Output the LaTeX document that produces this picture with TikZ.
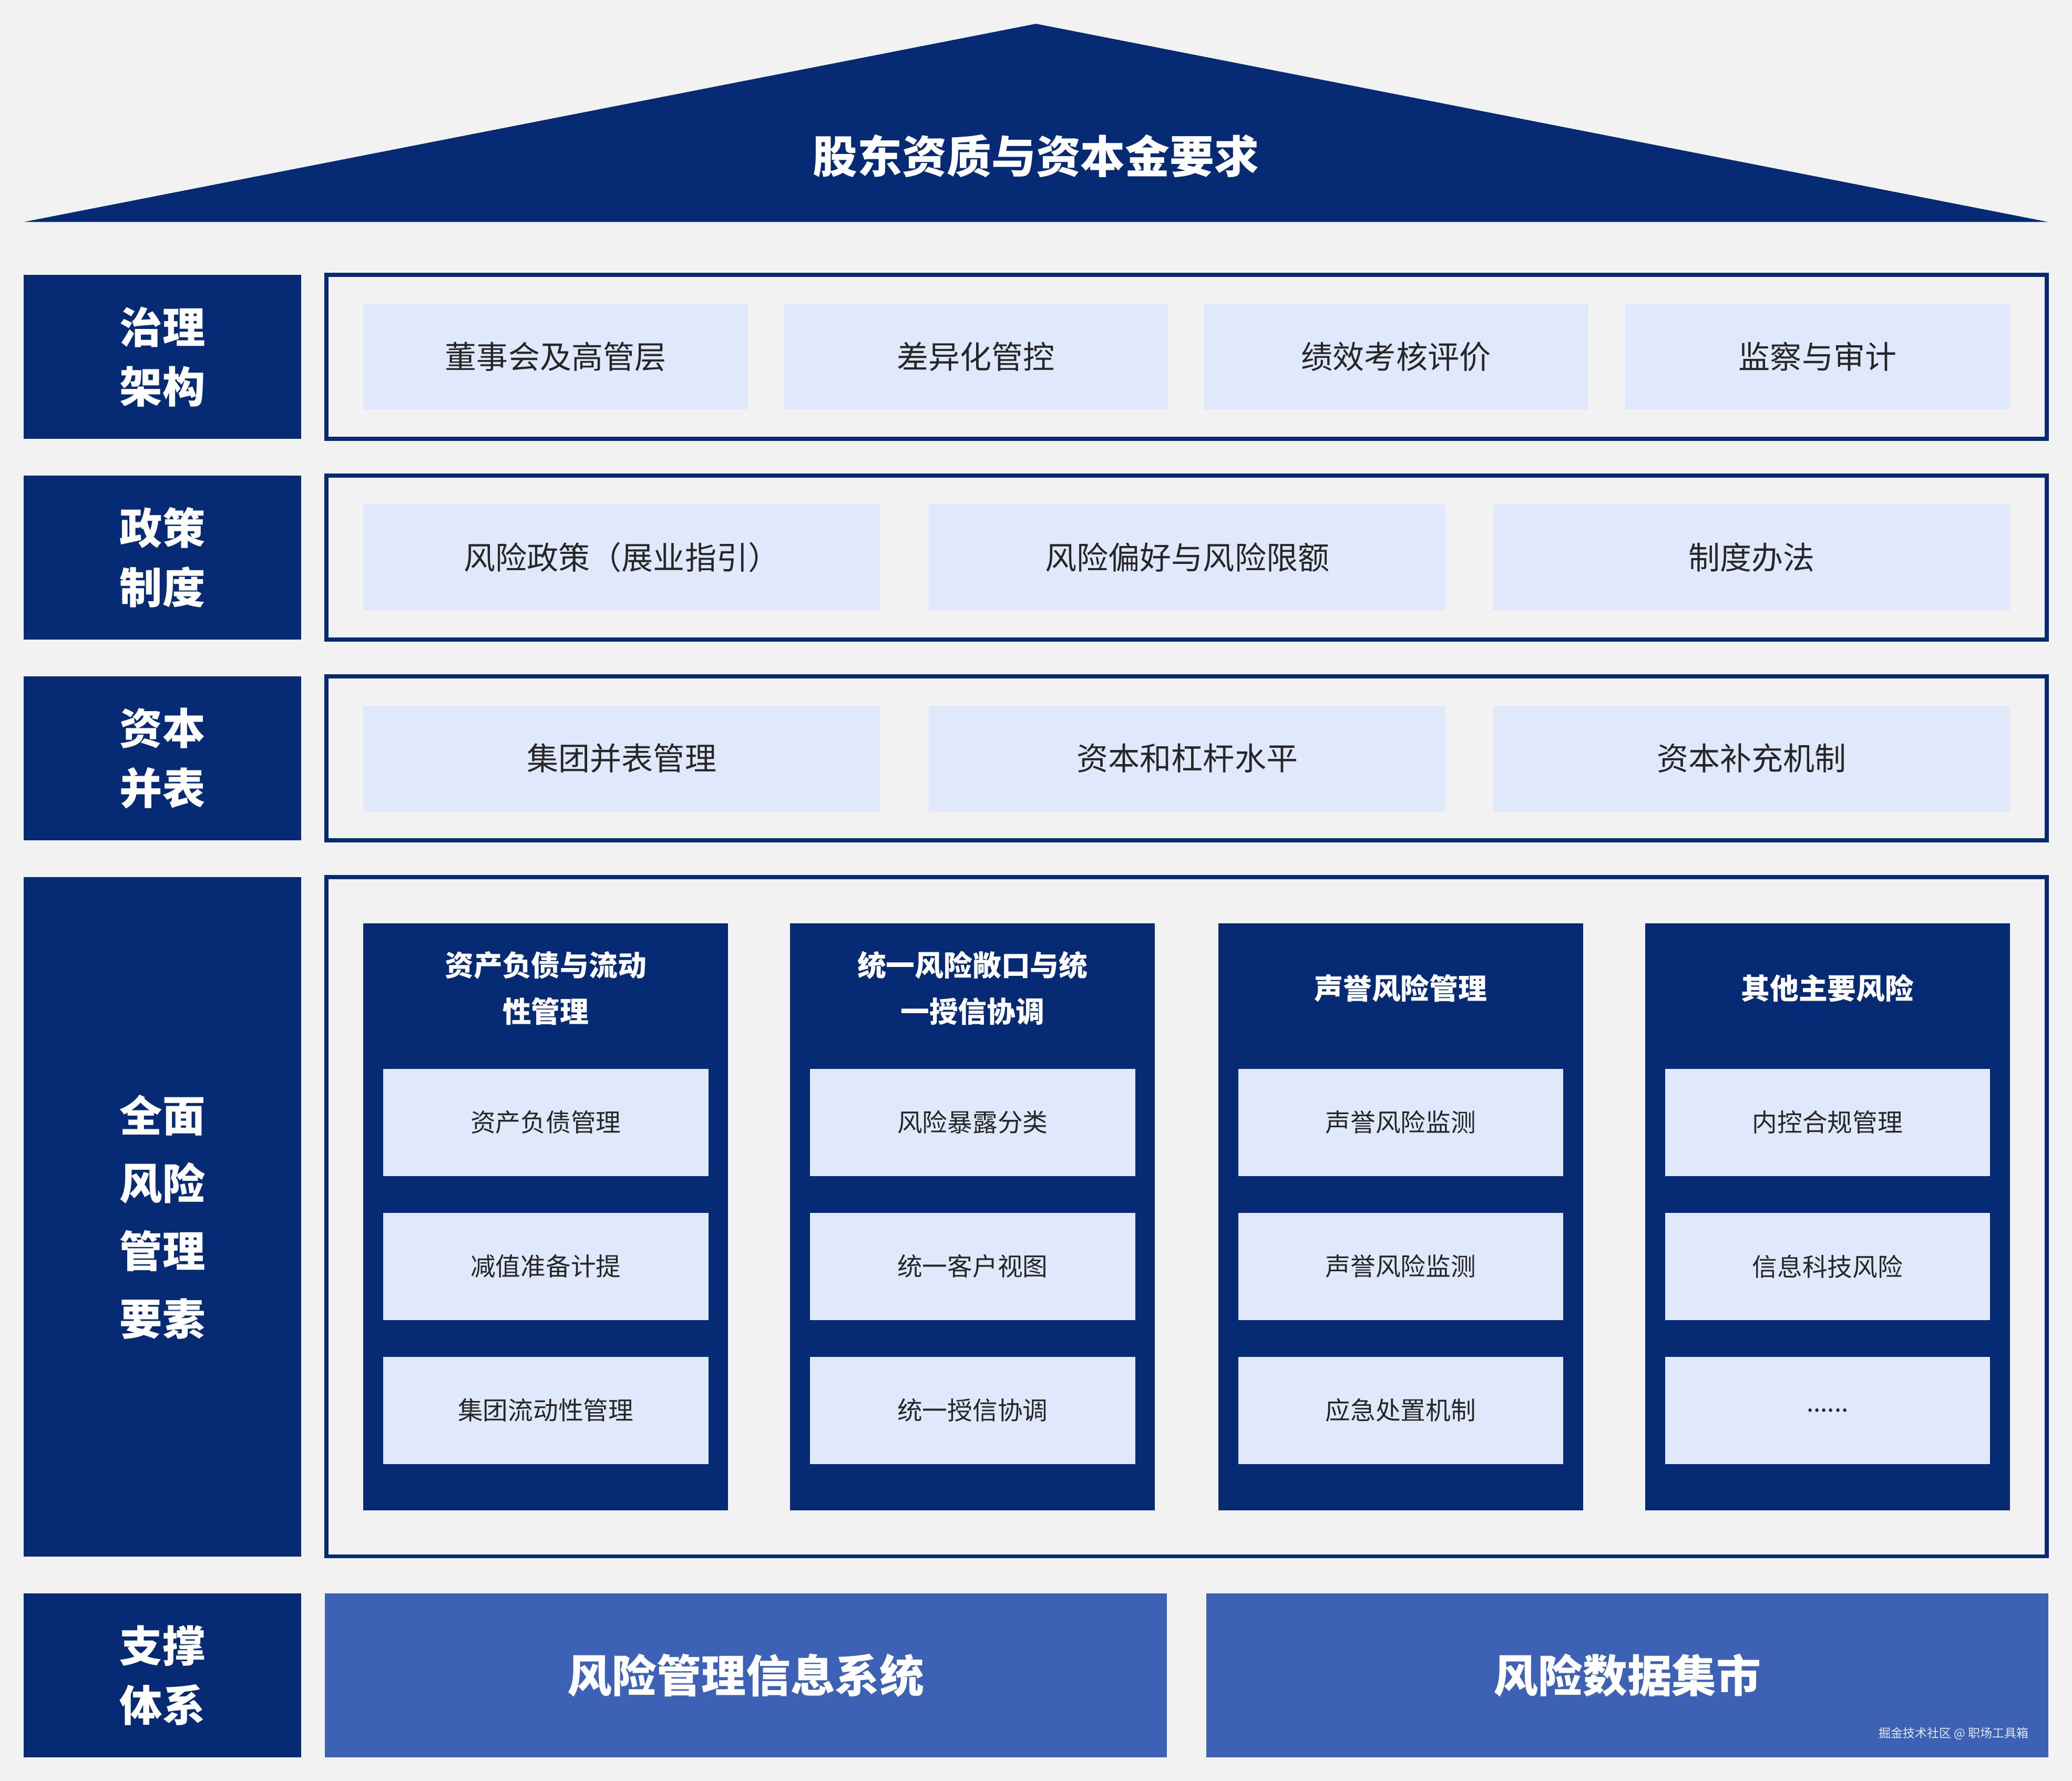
\documentclass[tikz,border=0pt]{standalone}
\usepackage{fontspec}
\newfontfamily\cjk{Noto Sans CJK SC}
\definecolor{navy}{HTML}{062A74}
\definecolor{lite}{HTML}{E0E9FB}
\definecolor{mid}{HTML}{3D62B5}
\definecolor{bg}{HTML}{F2F2F2}
\begin{document}
\begin{tikzpicture}[x=0.025cm,y=-0.025cm,
  lab/.style={fill=navy,text=white,font=\cjk\bfseries\fontsize{23}{32}\selectfont,align=center},
  frame/.style={draw=navy,line width=2.2pt,fill=none},
  item/.style={fill=lite,text=black!85,font=\cjk\fontsize{17}{20}\selectfont},
  col/.style={fill=navy},
  head/.style={text=white,font=\cjk\bfseries\fontsize{15.5}{25}\selectfont,align=center},
  sub/.style={fill=lite,text=black!85,font=\cjk\fontsize{13.5}{16}\selectfont},
  big/.style={fill=mid,text=white,font=\cjk\bfseries\fontsize{24}{28}\selectfont}]
\fill[bg] (0,0) rectangle (1568,1348);
\useasboundingbox (0,0) rectangle (1568,1348);
\fill[navy] (18,168) -- (784,18) -- (1550,168) -- cycle;
\node[text=white,font=\cjk\bfseries\fontsize{24}{28}\selectfont] (roof) at (784,118) {股东资质与资本金要求};
% left labels
\path (18,208) rectangle node[lab] (l1) {治理\\架构} (228,332);
\fill[navy] (18,208) rectangle (228,332);
\node[lab,fill=none] at (123,270) {治理\\架构};
\fill[navy] (18,360) rectangle (228,484);
\node[lab,fill=none] (l2) at (123,422) {政策\\制度};
\fill[navy] (18,512) rectangle (228,636);
\node[lab,fill=none] (l3) at (123,574) {资本\\并表};
\fill[navy] (18,664) rectangle (228,1178);
\node[lab,fill=none,font=\cjk\bfseries\fontsize{23}{36.5}\selectfont] (l4) at (123,921) {全面\\风险\\管理\\要素};
\fill[navy] (18,1206) rectangle (228,1330);
\node[lab,fill=none] (l5) at (123,1268) {支撑\\体系};
% frames
\foreach \a/\b in {208/332,360/484,512/636,664/1178}{\draw[frame] (247,\a) rectangle (1549,\b);}
% row1
\foreach \x/\t [count=\i] in {275/董事会及高管层,593/差异化管控,911/绩效考核评价,1230/监察与审计}{
  \fill[lite] (\x,230) rectangle ++(291,80);
  \node[item,fill=none] (r1\i) at (\x+145.5,270) {\t};}
\foreach \x/\t [count=\i] in {275/风险政策（展业指引）,703/风险偏好与风险限额,1130/制度办法}{
  \fill[lite] (\x,382) rectangle ++(391,80);
  \node[item,fill=none] (r2\i) at (\x+195.5,422) {\t};}
\foreach \x/\t [count=\i] in {275/集团并表管理,703/资本和杠杆水平,1130/资本补充机制}{
  \fill[lite] (\x,534) rectangle ++(391,80);
  \node[item,fill=none] (r3\i) at (\x+195.5,574) {\t};}
% row4 columns
\foreach \x/\h/\a/\b/\c [count=\i] in {
  275/{资产负债与流动\\性管理}/资产负债管理/减值准备计提/集团流动性管理,
  598/{统一风险敞口与统\\一授信协调}/风险暴露分类/统一客户视图/统一授信协调,
  922/{声誉风险管理}/声誉风险监测/声誉风险监测/应急处置机制,
  1245/{其他主要风险}/内控合规管理/信息科技风险/{......}}{
  \fill[navy] (\x,699) rectangle ++(276,444);
  \node[head] (h\i) at (\x+138,748) {\h};
  \fill[lite] (\x+15,809) rectangle ++(246,81);
  \node[sub,fill=none] (s\i a) at (\x+138,849.5) {\a};
  \fill[lite] (\x+15,918) rectangle ++(246,81);
  \node[sub,fill=none] (s\i b) at (\x+138,958.5) {\b};
  \fill[lite] (\x+15,1027) rectangle ++(246,81);
  \node[sub,fill=none] (s\i c) at (\x+138,1067.5) {\c};}
% row5
\fill[mid] (246,1206) rectangle (883,1330);
\node[big,fill=none] (b1) at (564.5,1268) {风险管理信息系统};
\fill[mid] (913,1206) rectangle (1550,1330);
\node[big,fill=none] (b2) at (1231.5,1268) {风险数据集市};
\node[text=white!85!mid,font=\cjk\fontsize{6.5}{8}\selectfont,anchor=east] (wm) at (1540,1312) {掘金技术社区 @ 职场工具箱};
\end{tikzpicture}
\end{document}
